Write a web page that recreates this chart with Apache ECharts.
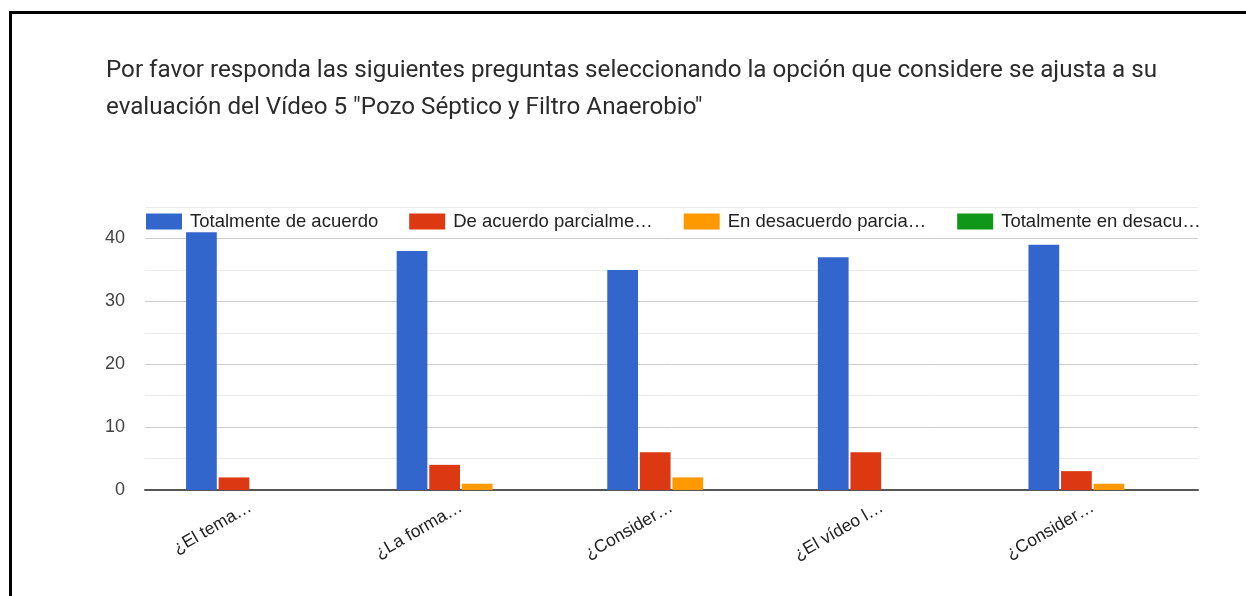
<!DOCTYPE html>
<html>
<head>
<meta charset="utf-8">
<script src="https://cdn.jsdelivr.net/npm/echarts@6/dist/echarts.min.js"></script>
<style>
  html, body { margin: 0; padding: 0; background: #fff; }
  #chart { width: 1246px; height: 596px; }
  #frame {
    position: absolute; left: 9px; top: 11px; right: 0; bottom: 0;
    border-top: 3px solid #000; border-left: 3px solid #000;
    pointer-events: none;
  }
</style>
</head>
<body>
<div id="chart"></div>
<div id="frame"></div>
<script>
// Survey answers per question (counts of respondents)
const questions = ['¿El tema…', '¿La forma…', '¿Consider…', '¿El vídeo l…', '¿Consider…'];
const seriesNames = [
  'Totalmente de acuerdo',
  'De acuerdo parcialmente',
  'En desacuerdo parcialmente',
  'Totalmente en desacuerdo'
];
const totalAgree      = [41, 38, 35, 37, 39];
const partialAgree    = [2, 4, 6, 6, 3];
const partialDisagree = [0, 1, 2, 0, 1];
const totalDisagree   = [0, 0, 0, 0, 0];
const palette = ['#3366cc', '#dc3912', '#ff9900', '#109618'];
// room for each legend label before it is cut with an ellipsis
const legendTextWidths = [206, 206, 201, 201];

const values = [totalAgree, partialAgree, partialDisagree, totalDisagree];

const chart = echarts.init(document.getElementById('chart'));
chart.setOption({
  backgroundColor: '#ffffff',
  animation: false,
  title: {
    text: 'Por favor responda las siguientes preguntas seleccionando la opción que considere se ajusta a su\nevaluación del Vídeo 5 "Pozo Séptico y Filtro Anaerobio"',
    left: 106,
    top: 52,
    padding: 0,
    textStyle: {
      fontFamily: 'Roboto',
      fontSize: 24.2,
      fontWeight: 'normal',
      color: '#2b2b2b',
      lineHeight: 37
    }
  },
  legend: {
    left: 146,
    top: 212,
    padding: 0,
    itemWidth: 36,
    itemHeight: 16,
    itemGap: 31,
    icon: 'rect',
    textStyle: {
      fontFamily: 'Liberation Sans',
      fontSize: 18.5,
      color: '#222',
      overflow: 'truncate',
      ellipsis: '…',
      padding: [0, 0, 0, 3]
    },
    data: seriesNames.map((name, i) => ({
      name,
      textStyle: { width: legendTextWidths[i], overflow: 'truncate', ellipsis: '…' }
    }))
  },
  grid: { left: 145, right: 48, top: 207, bottom: 106 },
  xAxis: {
    type: 'category',
    data: questions,
    axisLine: { lineStyle: { color: '#555', width: 2 } },
    axisTick: { show: false },
    axisLabel: {
      rotate: 30,
      margin: 16,
      fontFamily: 'Liberation Sans',
      fontSize: 17.5,
      color: '#222'
    }
  },
  yAxis: {
    type: 'value',
    min: 0,
    max: 45,
    interval: 5,
    axisLine: { show: false },
    axisTick: { show: false },
    axisLabel: {
      margin: 20,
      fontFamily: 'Liberation Sans',
      fontSize: 18,
      color: '#444',
      formatter: v => (v % 10 === 0 ? String(v) : '')
    },
    splitLine: { lineStyle: { color: ['#cccccc', '#ebebeb'], width: 1 } }
  },
  series: seriesNames.map((name, i) => ({
    name,
    type: 'bar',
    data: values[i],
    barGap: '6%',
    barCategoryGap: '39%',
    itemStyle: { color: palette[i] }
  })),
  color: palette
});
</script>
</body>
</html>
